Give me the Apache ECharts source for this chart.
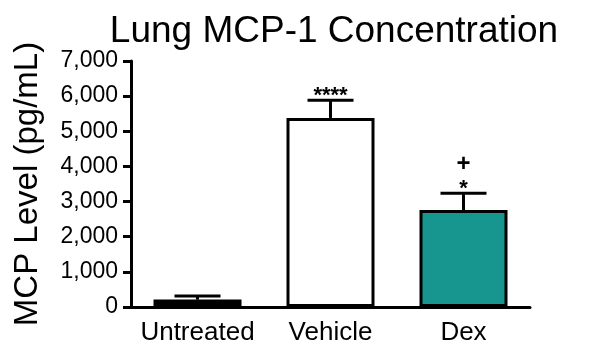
<!DOCTYPE html>
<html>
<head>
<meta charset="utf-8">
<script src="https://cdn.jsdelivr.net/npm/echarts@6/dist/echarts.min.js"></script>
<style>
  html, body { margin: 0; padding: 0; background: #ffffff; }
  #chart { width: 600px; height: 350px; }
</style>
</head>
<body>
<div id="chart"></div>
<script>
// Lung MCP-1 concentration by treatment group (mean + upper SEM)
const categories = ['Untreated', 'Vehicle', 'Dex'];
const means = [210, 5380, 2760];
const errorTops = [310, 5880, 3240];
const barColors = ['#000000', '#ffffff', '#17958f'];
const vsUntreated = ['', '****', '*'];
const vsVehicle = ['', '', '+'];
const yTicks = [0, 1000, 2000, 3000, 4000, 5000, 6000, 7000];

const FONT = '"Liberation Sans", Arial, Helvetica, sans-serif';

const chart = echarts.init(document.getElementById('chart'), null, { renderer: 'canvas' });

const errorData = categories.map((c, i) => [i, means[i], errorTops[i]]);

chart.setOption({
  animation: false,
  backgroundColor: '#ffffff',
  title: {
    text: 'Lung MCP-1 Concentration',
    left: 329,
    top: 8,
    textAlign: 'center',
    textStyle: { fontFamily: FONT, fontSize: 37, fontWeight: 'normal', color: '#000000' }
  },
  grid: { left: 131, right: 70, top: 61, bottom: 43, containLabel: false, outerBoundsMode: 'none' },
  xAxis: {
    type: 'category',
    data: categories,
    axisLine: { lineStyle: { color: '#000000', width: 3 } },
    axisTick: { alignWithLabel: true, length: 8, lineStyle: { color: '#000000', width: 3 } },
    axisLabel: { interval: 0, fontFamily: FONT, fontSize: 26, color: '#000000', margin: 13 }
  },
  yAxis: {
    type: 'value',
    min: yTicks[0],
    max: yTicks[yTicks.length - 1],
    interval: yTicks[1] - yTicks[0],
    name: 'MCP Level (pg/mL)',
    nameLocation: 'middle',
    nameGap: 87,
    nameTextStyle: { fontFamily: FONT, fontSize: 33, color: '#000000' },
    axisLine: { show: true, lineStyle: { color: '#000000', width: 3 } },
    axisTick: { show: true, length: 8, lineStyle: { color: '#000000', width: 3 } },
    axisLabel: {
      fontFamily: FONT, fontSize: 23, color: '#000000', margin: 13,
      formatter: v => v.toLocaleString('en-US')
    },
    splitLine: { show: false }
  },
  series: [
    {
      type: 'bar',
      barWidth: 88,
      data: means.map((v, i) => ({
        value: v,
        itemStyle: { color: barColors[i], borderColor: '#000000', borderWidth: 3 }
      })),
      z: 2
    },
    {
      type: 'custom',
      z: 3,
      data: errorData,
      renderItem: (params, api) => {
        const idx = api.value(0);
        const base = api.coord([idx, api.value(1)]);
        const top = api.coord([idx, api.value(2)]);
        const half = 23;
        const style = { stroke: '#000000', lineWidth: 3 };
        const children = [
          { type: 'line', shape: { x1: base[0], y1: base[1], x2: top[0], y2: top[1] }, style },
          { type: 'line', shape: { x1: top[0] - half, y1: top[1], x2: top[0] + half, y2: top[1] }, style }
        ];
        const i = params.dataIndex;
        if (vsUntreated[i]) {
          children.push({
            type: 'text',
            style: {
              text: vsUntreated[i], x: top[0], y: top[1] + 7,
              align: 'center', verticalAlign: 'bottom',
              font: 'bold 22px ' + FONT, fill: '#000000'
            }
          });
        }
        if (vsVehicle[i]) {
          children.push({
            type: 'text',
            style: {
              text: vsVehicle[i], x: top[0], y: top[1] - 17,
              align: 'center', verticalAlign: 'bottom',
              font: 'bold 24px ' + FONT, fill: '#000000'
            }
          });
        }
        return { type: 'group', children };
      }
    }
  ]
});
</script>
</body>
</html>
